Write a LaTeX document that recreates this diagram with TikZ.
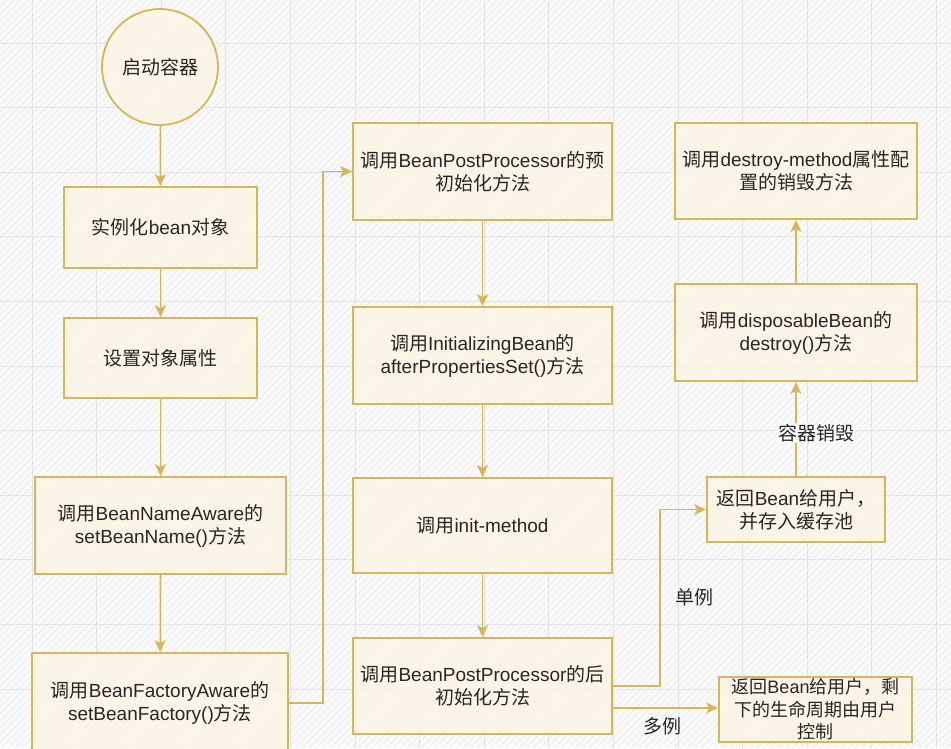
\documentclass[tikz,border=0pt]{standalone}
\usepackage{fontspec}
\setmainfont{Noto Sans CJK SC}
\newfontfamily\latinfont{Liberation Sans}
\newcommand{\en}[1]{{\latinfont #1}}
\usetikzlibrary{arrows.meta, positioning}

\definecolor{stroke}{HTML}{D6B656}
\definecolor{boxfill}{HTML}{FBF5E2}
\definecolor{gridline}{HTML}{E2E4EC}
\definecolor{hatch}{HTML}{E6E6EC}
\definecolor{canvas}{HTML}{FAFAFB}
\definecolor{ink}{HTML}{262626}

\tikzset{
  process/.style={draw=stroke, line width=1.8pt, fill=boxfill, fill opacity=0.8, text opacity=1,
    align=center, inner sep=0pt, text=ink, font=\fontsize{19}{23}\selectfont},
  flow/.style={draw=stroke, line width=1.3pt, -{Stealth[length=12pt,width=11pt,inset=3pt]}},
  tag/.style={text=ink, font=\fontsize{19}{23}\selectfont},
}

\begin{document}
\begin{tikzpicture}[x=1pt, y=-1pt]
    % canvas, hatching and grid
    \fill[canvas] (0,0) rectangle (951,748);
    \useasboundingbox (0,0) rectangle (951,748);
    \begin{scope}
        \clip (0,0) rectangle (951,748);
        \foreach \i in {0,7,...,1704}
            \draw[hatch, line width=0.6pt] (\i-748,748) -- (\i,0);
        \foreach \x in {32,96.6,...,951}
            \draw[gridline, line width=0.8pt] (\x,0) -- (\x,748);
        \foreach \y in {43,107.6,...,748}
            \draw[gridline, line width=0.8pt] (0,\y) -- (951,\y);
    \end{scope}

    % left column
    \node (start) [process, circle, minimum size=116pt] at (160,67) {启动容器};
    \node (inst) [process, minimum width=193pt, minimum height=81pt] at (160.5,227.5) {实例化\en{bean}对象};
    \node (props) [process, minimum width=193pt, minimum height=80pt] at (160.5,358) {设置对象属性};
    \node (nameaware) [process, minimum width=251pt, minimum height=97pt] at (160.5,525.5)
        {调用\en{BeanNameAware}的\\\en{setBeanName()}方法};
    \node (factaware) [process, minimum width=256pt, minimum height=100pt] at (160,703)
        {调用\en{BeanFactoryAware}的\\\en{setBeanFactory()}方法};

    % middle column
    \node (bppPre) [process, minimum width=259pt, minimum height=97pt] at (482.5,171.5)
        {调用\en{BeanPostProcessor}的预\\初始化方法};
    \node (initBean) [process, minimum width=259pt, minimum height=97pt] at (482.5,355.5)
        {调用\en{InitializingBean}的\\\en{afterPropertiesSet()}方法};
    \node (initMethod) [process, minimum width=259pt, minimum height=95pt] at (482.5,525.5)
        {调用\en{init-method}};
    \node (bppPost) [process, minimum width=259pt, minimum height=96pt] at (482.5,686)
        {调用\en{BeanPostProcessor}的后\\初始化方法};

    % right column
    \node (destroyM) [process, minimum width=242pt, minimum height=96pt] at (796,171)
        {调用\en{destroy-method}属性配\\置的销毁方法};
    \node (disposable) [process, minimum width=242pt, minimum height=97pt] at (796,332.5)
        {调用\en{disposableBean}的\\\en{destroy()}方法};
    \node (cache) [process, minimum width=178pt, minimum height=65pt] at (796,509.5)
        {返回\en{Bean}给用户，\\并存入缓存池};
    \node (userCtl) [process, minimum width=193pt, minimum height=65pt, font=\fontsize{18}{22.5}\selectfont] at (815.5,709.5)
        {返回\en{Bean}给用户，剩\\下的生命周期由用户\\控制};

    % connectors
    \draw[flow] (start) -- (inst);
    \draw[flow] (inst) -- (props);
    \draw[flow] (props) -- (nameaware);
    \draw[flow] (nameaware) -- (factaware);
    \draw[flow] (factaware.east) -- ++(34,0) |- (bppPre.west);
    \draw[flow] (bppPre) -- (initBean);
    \draw[flow] (initBean) -- (initMethod);
    \draw[flow] (initMethod) -- (bppPost);
    \draw[flow] (bppPost.east) -- ++(47,0) |- node[tag, pos=0.25, right=12pt] {单例} (cache.west);
    \draw[flow] ([yshift=-22pt]bppPost.east) -- node[tag, pos=0.47, below=6pt] {多例} ([yshift=1.5pt]userCtl.west);
    \draw[flow] (cache) -- node[tag, pos=0.46, xshift=20pt, fill=canvas, inner sep=1pt] {容器销毁} (disposable);
    \draw[flow] (disposable) -- (destroyM);
\end{tikzpicture}
\end{document}
